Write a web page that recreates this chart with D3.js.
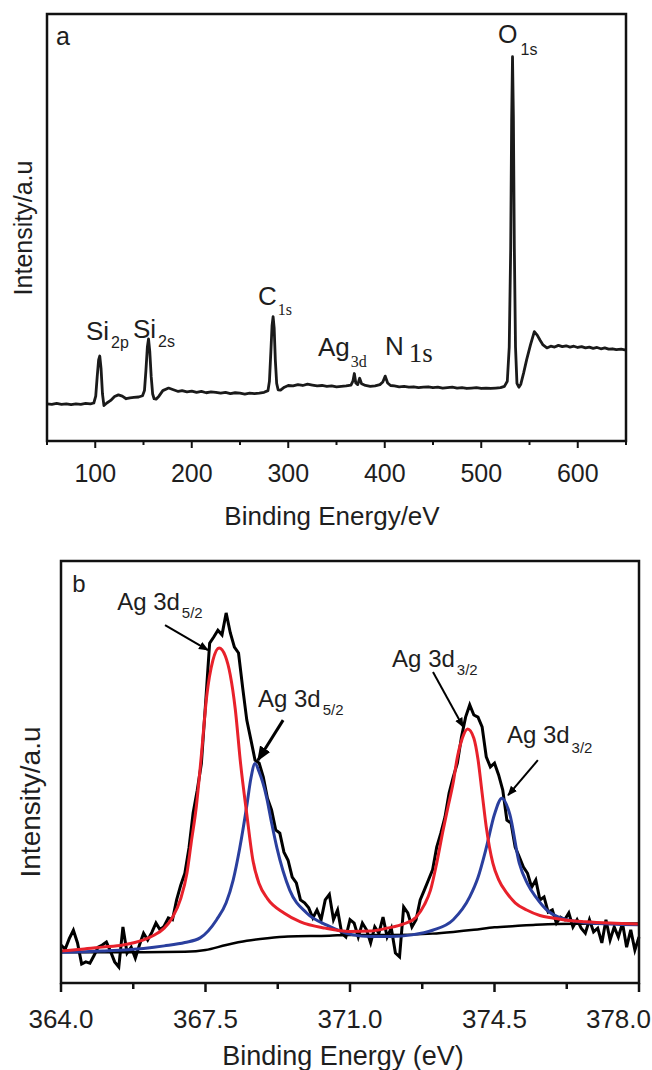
<!DOCTYPE html>
<html>
<head>
<meta charset="utf-8">
<script src="https://cdn.jsdelivr.net/npm/d3@7"></script>
<style>
body { margin: 0; background: #fff; }
svg { display: block; font-family: "Liberation Sans", Arial, sans-serif; }
</style>
</head>
<body>
<svg id="chart" width="652" height="1070"></svg>
<script>
// ---- panel a : survey spectrum ----
var surveyEnergy = [50, 55, 60, 65, 70, 75, 80, 85, 90, 95, 98.5, 100.5, 102, 103.5, 104.7, 106, 107.5, 109, 112, 116, 120,
	124, 128, 132, 136, 140, 145, 149, 151, 152.5, 154, 155.2, 156.5, 158, 159.5, 161, 163, 166, 170, 176, 181, 186, 190,
	195, 200, 205, 210, 215, 220, 225, 230, 235, 240, 245, 250, 255, 260, 265, 270, 275, 279, 280.5, 282,
	283.2, 284.3, 285.4, 286.6, 288, 289.5, 292, 296, 300, 305, 310, 315, 320, 325, 330, 335, 340, 345, 350, 355, 360, 365,
	367, 368.5, 370, 372, 374, 376, 380, 385, 390, 395, 398, 400.5, 403, 406, 410, 415, 420, 425, 430, 435,
	440, 445, 450, 455, 460, 465, 470, 475, 480, 485, 490, 495, 500, 505, 510, 515, 520, 524, 527, 529,
	530.5, 531.5, 532.4, 533.3, 534.3, 535.5, 537, 539, 541, 544, 547, 551, 555, 558, 561, 564, 568, 572, 576, 580,
	584, 588, 592, 596, 600, 604, 608, 612, 616, 620, 624, 628, 632, 636, 640, 645, 650];
var surveyIntensity = [8.7, 8.6, 8.8, 8.6, 8.7, 8.5, 8.7, 8.6, 8.8, 8.7, 8.9, 10.5, 15, 19, 19.9, 17, 11, 8.3, 8.9, 9.5, 10.4,
	10.8, 10.5, 9.9, 10.1, 10.2, 10.3, 10.6, 11.8, 16.5, 22, 23.9, 21, 15, 11, 9.9, 9.8, 10.5, 11.8, 12.4, 12.0, 11.6, 11.8,
	11.5, 11.7, 11.4, 11.6, 11.3, 11.5, 11.4, 11.2, 11.4, 11.1, 11.3, 11.2, 11.0, 11.2, 11.1, 11.2, 11.4, 11.8, 14, 21,
	27, 29.1, 26.5, 19, 13.5, 12, 11.9, 12.6, 13.0, 12.9, 13.2, 13.0, 13.3, 13.1, 12.9, 13.0, 12.8, 12.9, 12.7, 12.8, 12.9, 13.1,
	14.0, 15.8, 13.6, 13.2, 14.7, 13.4, 13.0, 12.8, 12.9, 13.2, 13.8, 15.2, 13.6, 13.0, 12.9, 12.7, 12.8, 12.6, 12.7, 12.5,
	12.6, 12.7, 12.5, 12.6, 12.4, 12.5, 12.6, 12.4, 12.5, 12.3, 12.4, 12.5, 12.3, 12.4, 12.3, 12.4, 12.5, 12.8, 14, 22,
	45, 75, 90, 76, 45, 22, 13.5, 12.6, 13.3, 16, 19, 22.5, 25.6, 24.8, 23.6, 22.5, 21.8, 22.2, 22.0, 22.4,
	22.1, 22.3, 22.0, 22.2, 21.9, 22.1, 21.8, 22.0, 21.7, 21.9, 21.6, 21.8, 21.5, 21.6, 21.4, 21.5, 21.3];
var surveyMajorTicks = [100, 200, 300, 400, 500, 600];
var surveyMinorTicks = [50, 150, 250, 350, 450, 550, 650];

// ---- panel b : Ag 3d high resolution ----
var agRawEnergy = d3.range(0, 141).map(function(i) { return +(364 + i * 0.1).toFixed(1); });
var agRawIntensity = [
	9.0, 8.0, 10.5, 12.5, 9.5, 4.5, 5.0, 4.7, 6.5, 8.5,
	9.0, 9.7, 7.5, 5.0, 3.8, 13.3, 7.1, 8.5, 5.9, 9.0,
	11.8, 10.2, 12.0, 14.2, 12.6, 13.5, 15.4, 15.0, 19.7, 23.2,
	26.0, 32.0, 40.3, 45.7, 52.0, 66.0, 80.5, 82.0, 83.6, 82.5,
	87.7, 83.0, 79.6, 78.2, 70.0, 62.3, 57.6, 52.8, 52.1, 48.8,
	43.8, 41.0, 36.3, 35.5, 31.0, 29.1, 25.1, 23.7, 19.7, 19.0,
	17.8, 15.4, 17.3, 15.0, 19.7, 21.0, 15.0, 17.3, 11.8, 10.9,
	15.0, 14.2, 10.9, 14.2, 12.6, 9.5, 13.3, 11.8, 15.6, 10.9,
	13.0, 7.1, 6.2, 18.0, 16.6, 13.3, 15.0, 19.7, 22.0, 24.4,
	26.8, 32.2, 35.5, 39.3, 45.0, 48.8, 52.1, 58.3, 63.0, 65.9,
	63.5, 63.0, 60.7, 53.6, 51.2, 52.1, 49.3, 45.7, 38.6, 37.9,
	32.2, 29.9, 27.5, 26.0, 22.7, 24.4, 19.7, 20.4, 16.8, 17.3,
	14.2, 15.6, 15.0, 16.6, 13.3, 15.0, 13.0, 11.8, 15.0, 12.1,
	13.0, 9.5, 15.0, 10.2, 13.3, 10.9, 14.2, 8.5, 12.6, 7.8,
	10.9];

var redFitEnergy = [364.0, 364.5, 365.0, 365.5, 366.0, 366.25, 366.5, 366.7, 366.9, 367.05, 367.15, 367.28, 367.4,
	367.53, 367.68, 367.83, 367.98, 368.1, 368.22, 368.35, 368.5, 368.65, 368.8, 369.0, 369.4, 369.8, 370.4, 371.0,
	371.5, 371.9, 372.3, 372.6, 372.8, 372.95, 373.1, 373.25, 373.38, 373.5, 373.6, 373.72, 373.85, 374.0, 374.1,
	374.2, 374.3, 374.46, 374.6, 374.8, 375.0, 375.28, 375.6, 375.91, 376.3, 376.7, 377.3, 378.0];
var redFitIntensity = [7.6, 8.0, 8.5, 9.0, 10.2, 11.3, 13.0, 15.5, 20.0, 26.0, 33.0, 42.0, 54.0,
	68.0, 76.5, 79.4, 77.5, 73.0, 65.0, 52.0, 40.0, 29.0, 23.5, 20.0, 16.6, 14.5, 13.0, 12.2,
	12.3, 13.0, 14.0, 15.6, 18.5, 22.0, 28.4, 36.0, 42.0, 47.5, 53.5, 58.0, 60.2, 58.0, 53.0,
	45.0, 37.0, 28.4, 24.5, 21.3, 19.0, 17.3, 16.0, 15.4, 14.8, 14.5, 14.2, 14.0];

var blueFitEnergy = [364.0, 365.0, 366.0, 366.5, 367.0, 367.37, 367.77, 368.0, 368.17, 368.33, 368.5, 368.6, 368.7,
	368.8, 368.98, 369.1, 369.23, 369.54, 369.95, 370.44, 371.07, 371.5, 372.0, 372.5, 373.0, 373.5, 373.9, 374.1,
	374.3, 374.5, 374.68, 374.87, 375.1, 375.3, 375.5, 375.8, 376.06, 376.7, 377.3, 378.0];
var blueFitIntensity = [7.3, 7.6, 8.2, 8.8, 9.6, 10.7, 15.0, 19.0, 24.4, 32.0, 42.0, 48.5, 52.0,
	50.0, 44.0, 38.0, 32.0, 22.0, 16.6, 13.7, 11.4, 11.0, 11.0, 11.4, 12.5, 15.0, 20.4, 25.0,
	32.0, 40.0, 43.8, 40.0, 28.4, 23.5, 20.4, 17.0, 15.6, 14.3, 14.0, 13.8];

var backgroundEnergy = [364.0, 366.0, 367.0, 367.5, 368.0, 368.5, 369.0, 369.5, 370.5, 371.0, 372.0, 373.0, 373.5,
	374.0, 374.5, 375.0, 375.5, 376.0, 377.0, 378.0];
var backgroundIntensity = [7.3, 7.3, 7.4, 7.8, 9.0, 10.0, 10.6, 11.0, 11.2, 11.4, 11.4, 11.7, 12.1,
	12.6, 13.2, 13.5, 13.8, 14.0, 14.1, 14.1];

var agMajorTicks = [364.0, 367.5, 371.0, 374.5, 378.0];
var agMinorTicks = [365.75, 369.25, 372.75, 376.25];

// annotation text, placed in data units
var surveyPeakLabels = [
	{ main: "Si", sub: "2p", e: 90.4, v: 23.6, dx: 2, dy: 8, subSize: 16, subFont: "sans" },
	{ main: "Si", sub: "2s", e: 139.1, v: 24.1, dx: 2, dy: 9, subSize: 16, subFont: "sans" },
	{ main: "C", sub: "1s", e: 268.7, v: 31.9, dx: 1, dy: 10, subSize: 16, subFont: "serif" },
	{ main: "Ag", sub: "3d", e: 330.8, v: 19.9, dx: 1, dy: 11, subSize: 16, subFont: "serif" },
	{ main: "N", sub: "1s", e: 400.3, v: 20.1, dx: 5, dy: 7, subSize: 27, subFont: "serif" },
	{ main: "O", sub: "1s", e: 517.4, v: 93.2, dx: 3, dy: 12, subSize: 16, subFont: "sans" }
];
var agPeakLabels = [
	{ sub: "5/2", e: 365.36, v: 88.4, dy: 8 },
	{ sub: "5/2", e: 368.77, v: 65.4, dy: 8 },
	{ sub: "3/2", e: 372.02, v: 74.9, dy: 8 },
	{ sub: "3/2", e: 374.80, v: 56.9, dy: 10 }
];
var agArrows = [
	{ e0: 366.52, v0: 84.8, e1: 367.56, v1: 78.9, w: 2 },
	{ e0: 369.38, v0: 62.3, e1: 368.77, v1: 52.8, w: 3 },
	{ e0: 373.01, v0: 73.7, e1: 373.74, v1: 60.7, w: 2 },
	{ e0: 375.55, v0: 52.8, e1: 374.83, v1: 44.5, w: 2 }
];

var svg = d3.select("#chart");
var TEXT = "#1e1e1e";

function zip(xs, ys) {
	return xs.map(function(x, i) { return [x, ys[i]]; });
}

function drawTicks(g, scale, values, len, y0, width) {
	g.selectAll(null).data(values).enter().append("line") //
	.attr("x1", function(d) { return scale(d); }) //
	.attr("x2", function(d) { return scale(d); }) //
	.attr("y1", y0) //
	.attr("y2", y0 + len) //
	.attr("stroke", "#111") //
	.attr("stroke-width", width);
}

// ================= panel a =================
var a = { left: 47, top: 14, right: 626, bottom: 441 };
var xA = d3.scaleLinear().domain([50, 650]).range([a.left, a.right]);
var yA = d3.scaleLinear().domain([0, 100]).range([a.bottom, a.top]);

var gA = svg.append("g");

gA.append("path") //
.datum(zip(surveyEnergy, surveyIntensity)) //
.attr("d", d3.line().x(function(d) { return xA(d[0]); }).y(function(d) { return yA(d[1]); })) //
.attr("fill", "none") //
.attr("stroke", "#1a1a1a") //
.attr("stroke-width", 2.8) //
.attr("stroke-linejoin", "round");

gA.append("rect") //
.attr("x", a.left).attr("y", a.top) //
.attr("width", a.right - a.left).attr("height", a.bottom - a.top) //
.attr("fill", "none").attr("stroke", "#111").attr("stroke-width", 2.5);

drawTicks(gA, xA, surveyMajorTicks, 7, a.bottom, 2);
drawTicks(gA, xA, surveyMinorTicks, 4, a.bottom, 2);

gA.selectAll(null).data(surveyMajorTicks).enter().append("text") //
.attr("x", function(d) { return xA(d); }) //
.attr("y", 482) //
.attr("text-anchor", "middle") //
.attr("font-size", 25) //
.attr("fill", TEXT) //
.text(function(d) { return d; });

gA.append("text").attr("x", 332).attr("y", 525).attr("text-anchor", "middle") //
.attr("font-size", 26).attr("fill", TEXT).text("Binding Energy/eV");

gA.append("text").attr("transform", "translate(32,228) rotate(-90)") //
.attr("text-anchor", "middle").attr("font-size", 25).attr("fill", TEXT).text("Intensity/a.u");

gA.append("text").attr("x", xA(59.3)).attr("y", yA(92.7)) //
.attr("font-size", 25).attr("fill", TEXT).text("a");

surveyPeakLabels.forEach(function(p) {
	var t = gA.append("text").attr("x", xA(p.e)).attr("y", yA(p.v)) //
	.attr("font-size", p.main === "O" ? 25 : 26).attr("fill", TEXT);
	t.append("tspan").text(p.main);
	t.append("tspan") //
	.attr("dx", p.dx).attr("dy", p.dy) //
	.attr("font-size", p.subSize) //
	.attr("font-family", p.subFont === "serif" ? "'Liberation Serif', 'Times New Roman', serif" : null) //
	.text(p.sub);
});

// ================= panel b =================
var b = { left: 61, top: 561, right: 639, bottom: 983 };
var xB = d3.scaleLinear().domain([364, 378]).range([b.left, b.right]);
var yB = d3.scaleLinear().domain([0, 100]).range([b.bottom, b.top]);

var gB = svg.append("g");

var lineB = d3.line().x(function(d) { return xB(d[0]); }).y(function(d) { return yB(d[1]); });
var smoothB = d3.line().curve(d3.curveMonotoneX).x(function(d) { return xB(d[0]); }).y(function(d) { return yB(d[1]); });

gB.append("path").datum(zip(agRawEnergy, agRawIntensity)) //
.attr("d", lineB).attr("fill", "none").attr("stroke", "#000") //
.attr("stroke-width", 3).attr("stroke-linejoin", "miter");

gB.append("path").datum(zip(backgroundEnergy, backgroundIntensity)) //
.attr("d", smoothB).attr("fill", "none").attr("stroke", "#000").attr("stroke-width", 2.5);

gB.append("path").datum(zip(blueFitEnergy, blueFitIntensity)) //
.attr("d", smoothB).attr("fill", "none").attr("stroke", "#2a3f9e").attr("stroke-width", 3);

gB.append("path").datum(zip(redFitEnergy, redFitIntensity)) //
.attr("d", smoothB).attr("fill", "none").attr("stroke", "#e8212b").attr("stroke-width", 3);

gB.append("rect") //
.attr("x", b.left).attr("y", b.top) //
.attr("width", b.right - b.left).attr("height", b.bottom - b.top) //
.attr("fill", "none").attr("stroke", "#111").attr("stroke-width", 2.5);

drawTicks(gB, xB, agMajorTicks, 9, b.bottom, 2.5);
drawTicks(gB, xB, agMinorTicks, 6, b.bottom, 2.5);

var lastTick = agMajorTicks[agMajorTicks.length - 1];
gB.selectAll(null).data(agMajorTicks).enter().append("text") //
.attr("x", function(d) { return d === lastTick ? 651 : xB(d); }) //
.attr("y", 1028) //
.attr("text-anchor", function(d) { return d === lastTick ? "end" : "middle"; }) //
.attr("font-size", 26) //
.attr("fill", TEXT) //
.text(function(d) { return d3.format(".1f")(d); });

gB.append("text").attr("x", 343).attr("y", 1065).attr("text-anchor", "middle") //
.attr("font-size", 27).attr("fill", TEXT).text("Binding Energy (eV)");

gB.append("text").attr("transform", "translate(40,802) rotate(-90)") //
.attr("text-anchor", "middle").attr("font-size", 28).attr("fill", TEXT).text("Intensity/a.u");

gB.append("text").attr("x", xB(364.27)).attr("y", yB(92.65)) //
.attr("font-size", 24).attr("fill", TEXT).text("b");

agPeakLabels.forEach(function(p) {
	var t = gB.append("text").attr("x", xB(p.e)).attr("y", yB(p.v)) //
	.attr("font-size", 24).attr("fill", TEXT);
	t.append("tspan").text("Ag 3d");
	t.append("tspan").attr("dx", 2).attr("dy", p.dy).attr("font-size", 15).text(p.sub);
});

var defs = svg.append("defs");
defs.append("marker") //
.attr("id", "head") //
.attr("viewBox", "0 0 10 10") //
.attr("refX", 9).attr("refY", 5) //
.attr("markerWidth", 5).attr("markerHeight", 5) //
.attr("markerUnits", "strokeWidth") //
.attr("orient", "auto") //
.append("path").attr("d", "M0,1 L10,5 L0,9 z").attr("fill", "#000");

gB.selectAll(null).data(agArrows).enter().append("line") //
.attr("x1", function(d) { return xB(d.e0); }) //
.attr("y1", function(d) { return yB(d.v0); }) //
.attr("x2", function(d) { return xB(d.e1); }) //
.attr("y2", function(d) { return yB(d.v1); }) //
.attr("stroke", "#000") //
.attr("stroke-width", function(d) { return d.w; }) //
.attr("marker-end", "url(#head)");
</script>
</body>
</html>
